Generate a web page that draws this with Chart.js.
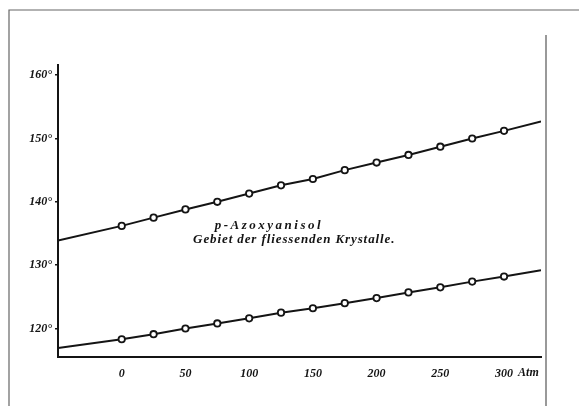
<!DOCTYPE html>
<html>
<head>
<meta charset="utf-8">
<script src="https://cdn.jsdelivr.net/npm/chart.js@4/dist/chart.umd.min.js"></script>
<style>
  html, body { margin: 0; padding: 0; background: #fff; }
  #wrap { width: 579px; height: 406px; position: relative; }
</style>
</head>
<body>
<div id="wrap"><canvas id="chart" width="579" height="406"></canvas></div>
<script>
// pressure in Atm, temperatures in degrees
const pressure = [-50, 0, 25, 50, 75, 100, 125, 150, 175, 200, 225, 250, 275, 300, 329];
const upperTemp = [133.9, 136.2, 137.5, 138.8, 140.0, 141.3, 142.6, 143.6, 145.0, 146.2, 147.4, 148.7, 150.0, 151.2, 152.7];
const lowerTemp = [116.9, 118.3, 119.1, 120.0, 120.8, 121.6, 122.5, 123.2, 124.0, 124.8, 125.7, 126.5, 127.4, 128.2, 129.2];
const xTicks = [0, 50, 100, 150, 200, 250, 300];
const yTicks = [120, 130, 140, 150, 160];
const labelLines = ['p-Azoxyanisol', 'Gebiet der fliessenden Krystalle.'];

const ink = '#141414';
const font = 'Liberation Serif, DejaVu Serif, serif';

function points(ys) {
  return pressure.map((p, i) => ({ x: p, y: ys[i] }));
}
// no marker on the extended ends of the lines
const radius = ctx => (ctx.dataIndex === 0 || ctx.dataIndex === pressure.length - 1) ? 0 : 3.2;

const decor = {
  id: 'decor',
  beforeDraw(chart) {
    const c = chart.ctx;
    c.save();
    c.strokeStyle = '#666';
    c.lineWidth = 1.2;
    c.beginPath();
    c.moveTo(9, 406); c.lineTo(9, 10); c.lineTo(579, 10);
    c.stroke();
    c.strokeStyle = '#777';
    c.lineWidth = 1.5;
    c.beginPath();
    c.moveTo(546, 35); c.lineTo(546, 406);
    c.stroke();
    c.restore();
  },
  afterDraw(chart) {
    const c = chart.ctx;
    const x = chart.scales.x, y = chart.scales.y;
    c.save();
    c.fillStyle = ink;
    c.textBaseline = 'middle';
    c.textAlign = 'left';
    c.font = 'italic bold 13px ' + font;
    c.letterSpacing = '2.5px';
    c.fillText(labelLines[0], x.getPixelForValue(73), y.getPixelForValue(136.2));
    c.letterSpacing = '0.9px';
    c.font = 'italic bold 13px ' + font;
    c.fillText(labelLines[1], x.getPixelForValue(56), y.getPixelForValue(134));
    // unit after the last pressure tick
    c.letterSpacing = '0px';
    c.font = 'italic bold 12px ' + font;
    c.fillText('Atm', x.getPixelForValue(300) + 14, chart.chartArea.bottom + 16);
    c.restore();
  }
};

new Chart(document.getElementById('chart'), {
  type: 'line',
  data: {
    datasets: [
      {
        data: points(upperTemp),
        borderColor: ink, borderWidth: 2,
        pointRadius: radius, pointBackgroundColor: '#fff',
        pointBorderColor: ink, pointBorderWidth: 1.8,
        tension: 0,
      },
      {
        data: points(lowerTemp),
        borderColor: ink, borderWidth: 2,
        pointRadius: radius, pointBackgroundColor: '#fff',
        pointBorderColor: ink, pointBorderWidth: 1.8,
        tension: 0,
      },
    ],
  },
  options: {
    responsive: false,
    animation: false,
    events: [],
    layout: { padding: { top: 65, right: 38, bottom: 0, left: 0 } },
    plugins: { legend: { display: false }, tooltip: { enabled: false } },
    scales: {
      x: {
        type: 'linear',
        min: -50, max: 329,
        afterBuildTicks: s => { s.ticks = xTicks.map(v => ({ value: v })); },
        afterFit: s => { s.height = 49; },
        grid: { display: false, drawTicks: false },
        border: { display: true, color: ink, width: 2 },
        ticks: {
          color: ink, padding: 10,
          font: { family: font, size: 12, style: 'italic', weight: 'bold' },
          maxRotation: 0,
        },
      },
      y: {
        type: 'linear',
        min: 115.5, max: 161.6,
        afterBuildTicks: s => { s.ticks = yTicks.map(v => ({ value: v })); },
        afterFit: s => { s.width = 58; },
        grid: { drawOnChartArea: false, drawTicks: true, tickLength: 3, color: ink, lineWidth: 1.5 },
        border: { display: true, color: ink, width: 2 },
        ticks: {
          color: ink, padding: 3,
          font: { family: font, size: 12, style: 'italic', weight: 'bold' },
          callback: v => v + '\u00B0',
        },
      },
    },
  },
  plugins: [decor],
});
</script>
</body>
</html>
